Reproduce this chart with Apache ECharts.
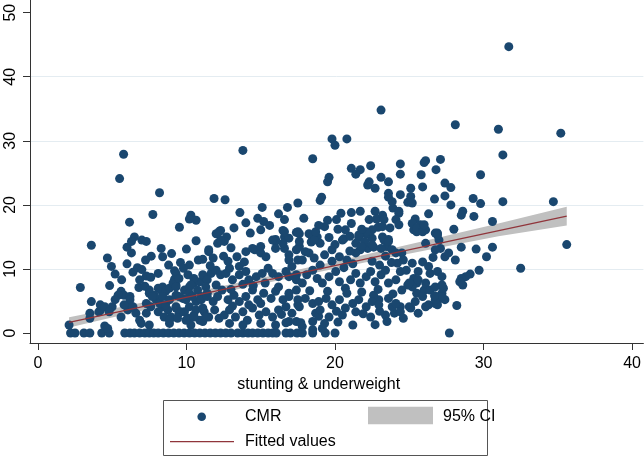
<!DOCTYPE html>
<html>
<head>
<meta charset="utf-8">
<script src="https://cdn.jsdelivr.net/npm/echarts@6/dist/echarts.min.js"></script>
<style>
html,body{margin:0;padding:0;background:#fff;}
#chart{width:644px;height:458px;}
</style>
</head>
<body>
<div id="chart"></div>
<script>
// ---- data ----
const xTicks = [0, 10, 20, 30, 40];
const yTicks = [0, 10, 20, 30, 40, 50];
const xTitle = 'stunting & underweight';
const legendLabels = ['CMR', '95% CI', 'Fitted values'];

// CMR observations [stunting & underweight, CMR]
const cmrZero = [2.2, 2.5, 3.1, 3.5, 4.3, 4.8, 5.85, 6.2, 6.5, 6.85, 7.2, 7.5, 7.8, 8.1, 8.45, 8.8, 9.15, 9.5, 9.85, 10.2, 10.55, 10.9, 11.25, 11.6, 11.95, 12.3, 12.65, 13.0, 13.45, 13.8, 14.15, 14.45, 14.8, 15.15, 15.5, 15.8, 16.05, 16.7, 17.0, 17.45, 17.8, 18.5, 19.35, 20.0, 27.7];
const cmrPoints = [
[5.77,27.9],[13.8,28.5],[18.5,27.2],[19.8,30.3],[20.0,29.3],[20.8,30.3],[21.1,25.7],[21.7,25.5],[22.4,26.1],[23.1,34.8],
[24.4,26.4],[26.0,26.6],[26.1,26.9],[26.8,25.5],[27.1,27.1],[28.1,32.5],[31.0,31.8],[31.3,27.8],[31.7,44.7],[35.2,31.2],
[34.7,20.5],[35.6,13.8],[32.5,10.1],
[5.5,24.1],[8.19,21.9],[7.74,18.5],[6.17,17.3],[10.3,18.4],[10.65,17.6],[9.53,16.5],[6.5,15.0],[7.0,14.5],[3.6,13.7],[6.0,13.4],
[6.3,12.5],[8.3,13.2],[10.65,14.4],[4.68,11.7],[7.63,12.0],[7.25,11.4],[8.4,11.9],[4.95,10.4],[6.4,9.5],[10.2,10.6],
[10.8,11.4],[11.1,11.5],[9.2,9.7],[8.1,9.3],[7.3,8.9],[7.6,8.7],[5.64,8.3],[2.86,7.1],[4.83,7.4],[6.8,7.1],
[7.2,7.3],[5.6,6.5],[5.8,5.9],[6.2,5.7],[8.1,7.0],[8.4,7.2],[9.2,8.4],[9.3,7.5],[3.6,4.9],[4.2,3.5],
[5.0,4.1],[4.5,1.1],[4.7,0.7],[6.6,3.1],[6.85,2.0],[6.96,1.5],[6.06,3.6],[7.3,3.1],[7.96,5.2],[8.4,4.1],
[8.75,3.6],[8.97,2.5],
[11.86,21.0],[12.6,20.8],[10.2,17.8],[12.0,15.5],[12.3,16.0],[12.7,15.0],[14.0,17.2],[15.1,19.6],[14.8,17.9],[15.2,17.4],
[15.0,16.1],[16.8,19.6],[17.5,20.3],[16.6,17.7],[16.5,16.0],[16.6,15.0],[17.4,15.7],[16.9,14.8],[16.0,14.6],
[21.4,24.8],[24.4,24.8],[25.8,24.7],[19.5,23.6],[19.6,24.3],[22.3,23.6],[22.2,23.1],[22.7,22.6],[23.1,24.3],[23.6,23.6],
[25.1,22.6],[25.9,22.8],[27.4,23.4],[27.8,22.7],[19.1,21.2],[19.0,20.7],[23.6,21.8],[23.6,21.2],[25.1,21.3],[24.9,20.4],
[26.7,20.9],[27.4,21.4],[27.8,20.0],[21.1,18.8],[21.7,19.0],[21.1,17.1],[20.1,17.7],[17.9,17.9],[22.7,19.0],[22.3,17.7],
[22.8,17.8],[23.2,18.4],[23.3,17.7],[23.9,19.5],[24.3,18.7],[24.1,17.7],[24.3,16.9],[22.9,16.5],[23.7,16.4],[25.4,17.8],
[25.75,16.9],[26.1,16.1],[26.3,18.6],[26.75,15.6],[25.3,16.1],[25.5,15.8],[28.0,16.2],[17.6,15.5],[18.5,14.8],[18.8,15.0],
[19.6,14.9],[20.6,14.7],[21.0,15.1],[21.6,14.9],[22.5,14.8],[23.2,15.0],[23.6,14.6],[22.1,15.5],[22.5,16.1],
[29.8,24.7],[31.3,20.5],[29.3,21.0],[29.8,20.2],[28.6,19.0],[28.5,18.4],[29.35,18.2],[30.6,17.4],[29.5,13.1],[30.6,13.4],
[30.2,11.9],[28.5,13.4],[29.7,9.8],[29.1,9.2],[28.8,8.8],[28.5,8.5],[28.4,8.0],[28.6,7.5],[28.2,4.3],[27.4,11.9],
[27.1,13.2],[27.0,14.5],[26.9,15.6],[27.3,7.0],[27.2,6.2],[27.0,5.7],[26.75,4.6],[26.3,4.4],
[24.4,21.6],[25.2,20.3],[24.3,19.0],[23.85,20.5],[23.2,16.6],[23.3,14.5],[23.5,13.5],[23.85,13.0],[22.1,15.8],[22.0,14.3],
[21.7,13.0],[22.2,13.2],[22.6,13.4],[25.2,17.1],[25.5,16.4],[25.9,15.8],[26.0,16.9],[26.9,15.3],
[24.5,12.5],[24.2,10.9],[24.4,9.6],[25.2,10.9],[25.9,11.1],[26.3,10.4],[26.4,9.3],[25.3,8.5],[25.5,7.8],[26.0,6.7],
[25.2,7.2],[24.9,7.5],[24.5,6.7],[25.5,6.2],[25.9,5.7],
[22.4,2.5],[23.4,2.8],[23.5,1.8],[24.0,3.1],[24.4,4.1],[25.1,3.9],[27.1,5.4],[26.9,4.4],[23.85,4.1],[22.95,5.2],[22.6,5.9],
[6.3,14.3],[7.3,14.3],[11.5,12.7],[12.1,14.0],[12.55,14.3],[11.8,11.7],
[13.4,11.9],[13.56,10.4],[13.9,11.1],[14.6,13.0],[15.0,12.5],[16.0,14.3],[16.6,13.2],[16.9,12.2],[17.4,13.0],[17.5,11.4],
[6.85,8.3],[8.3,6.7],[8.6,6.5],[8.86,7.0],[9.1,7.8],[9.3,9.3],[9.87,6.7],[10.2,7.2],[10.5,7.8],[10.9,8.0],[11.2,8.8],
[11.66,9.3],[12.0,9.8],[12.3,9.1],[12.66,9.3],[12.9,10.1],[13.1,8.3],[13.56,9.1],[14.0,9.6],[14.2,8.3],[14.7,8.8],
[15.1,9.3],[15.5,10.1],[15.8,9.3],[16.2,8.8],[16.7,9.6],[17.1,10.4],[17.4,9.1],
[6.2,4.4],[8.2,4.6],[8.6,4.4],[9.3,4.1],[9.5,3.1],[9.87,3.3],[10.1,2.3],[10.5,2.8],[10.9,2.0],[11.2,3.3],
[11.5,2.5],[11.9,3.6],[12.2,2.3],[12.55,2.8],[12.9,3.6],[13.3,2.5],[13.8,3.3],[14.1,2.0],[14.45,3.9],[14.9,2.8],
[15.35,3.3],[15.8,2.5],[16.2,3.6],[16.7,4.1],[17.1,3.1],[17.5,4.4],
[7.5,6.7],[7.85,5.9],[8.4,5.7],[8.86,5.2],[9.3,5.9],[9.75,5.4],[10.2,6.2],[10.65,4.9],[11.0,5.7],[11.4,6.2],
[11.8,4.9],[12.1,5.7],[12.4,6.7],[12.8,5.2],[13.2,5.9],[13.56,4.9],[14.0,5.7],[14.45,6.7],[14.8,5.2],[15.2,6.2],
[15.7,5.4],[16.0,6.5],[16.5,5.2],[16.9,6.2],[17.4,6.7],
[7.5,1.25],[8.86,1.5],[10.3,1.25],[11.1,1.8],[12.9,1.5],[13.8,1.25],[15.0,1.5],[16.0,1.25],[16.9,1.8],
[18.4,14.2],[19.0,14.0],[17.6,13.5],[18.25,12.5],[16.9,11.4],[17.8,11.4],[18.6,11.7],[19.3,12.2],[19.8,13.0],[20.3,11.9],
[20.8,11.4],[21.4,12.5],[22.5,13.75],[23.1,13.2],[23.6,14.3],[24.1,12.5],[24.6,11.4],[26.9,9.6],[27.2,8.8],[26.1,14.0],
[26.75,13.0],[27.65,12.5],[28.1,11.4],
[16.9,8.8],[17.4,8.3],[17.8,7.8],[18.1,9.1],[18.5,9.8],[18.8,8.5],[19.15,7.8],[19.6,8.8],[20.05,9.6],[20.3,8.0],
[20.7,7.0],[21.05,8.3],[21.4,9.3],[21.7,7.8],[22.1,8.8],[22.4,9.6],[22.7,8.0],[23.1,9.1],[23.4,9.8],[23.6,7.8],
[24.1,8.3],[25.0,7.8],[25.6,8.3],[26.1,7.8],[26.4,6.7],[26.75,7.2],[27.2,7.5],[27.4,5.2],
[16.9,5.7],[17.5,5.2],[18.0,5.4],[18.5,4.6],[18.9,4.9],[19.4,5.4],[19.8,4.4],[20.3,5.2],[20.7,3.9],[21.2,4.6],
[21.6,5.2],[22.1,4.1],[22.5,4.9],[22.95,4.4],[23.6,5.4],[24.1,4.6],[24.4,3.3],[25.0,4.1],[25.4,4.9],[26.75,5.2],
[27.2,5.7],[17.6,4.1],[18.7,3.1],[19.6,2.5],[20.5,2.8],[21.4,3.3],[26.1,4.1],
[17.4,1.8],[17.8,1.0],[18.5,0.5],[19.15,0.7],[21.2,1.25],
[26.7,5.8],[16.4,2.9],[16.7,1.6],[17.7,1.6],[18.5,1.8],[18.9,2.6],[2.1,1.25],[3.5,2.3],[4.1,3.3],
[12.2,15.8],[12.3,14.5],[11.5,13.0],
[14.0,12.7],[14.45,13.2],[15.0,13.5],[15.35,11.9],[15.8,14.5],[16.0,13.2],[16.5,14.0],[16.6,15.8],[17.5,15.8],[17.6,14.3],
[18.25,15.5],[18.6,14.5],[18.7,15.8],[18.0,12.7],[20.5,14.5],[20.7,16.1],[21.4,14.0],[21.6,15.3],[21.8,13.5],[19.3,16.6],[20.2,16.2],
[9.5,8.5],[10.1,9.1],[10.5,8.5],[11.1,9.1],[11.4,8.3],[9.3,7.2],[10.3,7.5],[10.75,6.7],[11.3,7.2],[9.5,5.7],
[9.97,5.2],[10.4,5.7],[11.0,5.2],[11.4,5.7],[9.3,3.9],[9.6,3.3],[10.2,4.1],[10.65,3.6],[11.1,3.9],[9.4,2.3],
[9.97,2.0],[10.5,2.5],[11.3,2.5],
[5.4,5.9],[5.2,5.2],[4.2,4.4],[4.5,4.1],[5.6,2.5],[7.5,6.2],[7.7,5.7],[7.3,4.6],[7.6,4.1],[8.1,3.3],
[8.5,2.5],[8.86,2.0],[6.2,5.2],[6.4,4.1],[5.8,4.4],[4.8,3.3],[3.5,3.1],
[9.0,12.4],[9.6,11.0],[10.0,13.1],[11.6,10.5],[12.5,12.0],[13.0,13.3],[12.8,11.2],
[13.2,16.4],[14.3,15.6],[15.6,16.8],[16.2,18.6],[13.6,18.8],
[19.0,10.6],[19.8,11.2],[20.6,10.2],[21.2,10.8],[20.0,13.8],[21.0,12.8],[19.5,17.6],[18.9,16.8],[21.8,16.2],[20.4,18.7],
[23.0,10.6],[23.8,11.0],[24.8,9.8],[25.6,9.6],[22.5,11.2],[23.4,12.0],[26.6,11.8],
[12.0,7.5],[13.0,6.8],[13.8,7.6],[14.5,7.4],[15.3,7.8],[16.2,7.2],[15.0,4.6],[14.2,4.4],[13.1,4.2],[18.3,6.6],
[19.5,6.5],[20.8,6.2],[21.8,6.4],[22.9,6.8],[23.9,6.1],[19.0,3.6],[20.1,3.4],[21.9,3.0],[23.0,3.4],[25.6,3.1],
[24.6,2.3],[22.7,1.3],[20.2,1.7],[19.3,1.5],
[5.2,9.2],[6.0,10.8],[6.7,10.2],[8.8,10.6],[9.8,10.1],[7.0,9.9]
];

// fitted line and 95% CI
const fitX  = [2.1, 35.6];
const fitY  = [1.65, 18.25];
const ciX    = [2.1, 6, 11, 16, 22, 27, 31, 35.6];
const ciLow  = [0.85, 2.95, 5.57, 8.1, 11.0, 13.3, 15.1, 16.8];
const ciHigh = [2.45, 4.25, 6.63, 9.1, 12.2, 14.9, 17.1, 19.7];

// ---- chart ----
const FONT = "'Liberation Sans', Arial, sans-serif";
const navy = '#1a476f';
const cranberry = '#90353b';
const band = '#c0c0c0';

const scatterData = cmrZero.map(x => [x, 0]).concat(cmrPoints);
const isTick = (list, v) => list.some(t => Math.abs(t - v) < 1e-6);

const chart = echarts.init(document.getElementById('chart'), null, {renderer: 'canvas'});
chart.setOption({
  animation: false,
  backgroundColor: '#ffffff',
  textStyle: {fontFamily: FONT},
  grid: {left: 30, right: 0, top: 0, bottom: 115},
  xAxis: {
    type: 'value',
    min: -0.53, max: 40.76,
    name: xTitle,
    nameLocation: 'middle',
    nameGap: 28,
    nameTextStyle: {fontFamily: FONT, fontSize: 16, color: '#000', padding: [0, 36, 0, 0]},
    axisLine: {show: true, onZero: false, lineStyle: {color: '#333', width: 1}},
    axisTick: {show: true, length: 7, customValues: xTicks, lineStyle: {color: '#333'}},
    axisLabel: {customValues: xTicks, margin: 13, fontFamily: FONT, fontSize: 16, color: '#000',
      formatter: v => isTick(xTicks, v) ? String(v) : ''},
    splitLine: {show: false}
  },
  yAxis: {
    type: 'value',
    min: -1.56, max: 51.98,
    axisLine: {show: true, onZero: false, lineStyle: {color: '#333', width: 1}},
    axisTick: {show: true, length: 7, customValues: yTicks, lineStyle: {color: '#333'}},
    axisLabel: {customValues: yTicks, rotate: 90, margin: 11, fontFamily: FONT, fontSize: 16, color: '#000',
      formatter: v => isTick(yTicks, v) ? String(v) : ''},
    splitLine: {show: true, showMinLine: false, showMaxLine: false, lineStyle: {color: '#e4ecf1', width: 1}}
  },
  series: [
    {
      name: legendLabels[0],
      type: 'scatter',
      data: scatterData,
      symbol: 'circle',
      symbolSize: 9,
      itemStyle: {color: navy, opacity: 1},
      silent: true
    },
    {
      name: legendLabels[1],
      type: 'custom',
      silent: true,
      data: [[ciX[0], ciLow[0]]],
      renderItem: function (params, api) {
        const pts = [];
        for (let i = 0; i < ciX.length; i++) pts.push(api.coord([ciX[i], ciHigh[i]]));
        for (let i = ciX.length - 1; i >= 0; i--) pts.push(api.coord([ciX[i], ciLow[i]]));
        return {type: 'polygon', shape: {points: pts}, style: {fill: band, stroke: null}};
      }
    },
    {
      name: legendLabels[2],
      type: 'line',
      data: fitX.map((x, i) => [x, fitY[i]]),
      symbol: 'none',
      lineStyle: {color: cranberry, width: 1.3},
      silent: true
    }
  ],
  graphic: [
    {type: 'rect', shape: {x: 163.5, y: 400.5, width: 324, height: 55}, style: {fill: null, stroke: '#555', lineWidth: 1}},
    {type: 'circle', shape: {cx: 201.7, cy: 416.7, r: 4.3}, style: {fill: navy}},
    {type: 'text', x: 245, y: 417, style: {text: legendLabels[0], font: '16px ' + FONT, fill: '#000', verticalAlign: 'middle'}},
    {type: 'rect', shape: {x: 368, y: 406.7, width: 65, height: 17.6}, style: {fill: band}},
    {type: 'text', x: 443, y: 417, style: {text: legendLabels[1], font: '16px ' + FONT, fill: '#000', verticalAlign: 'middle'}},
    {type: 'line', shape: {x1: 170, y1: 441.7, x2: 234, y2: 441.7}, style: {stroke: cranberry, lineWidth: 1.3}},
    {type: 'text', x: 245, y: 442, style: {text: legendLabels[2], font: '16px ' + FONT, fill: '#000', verticalAlign: 'middle'}}
  ]
});
</script>
</body>
</html>
